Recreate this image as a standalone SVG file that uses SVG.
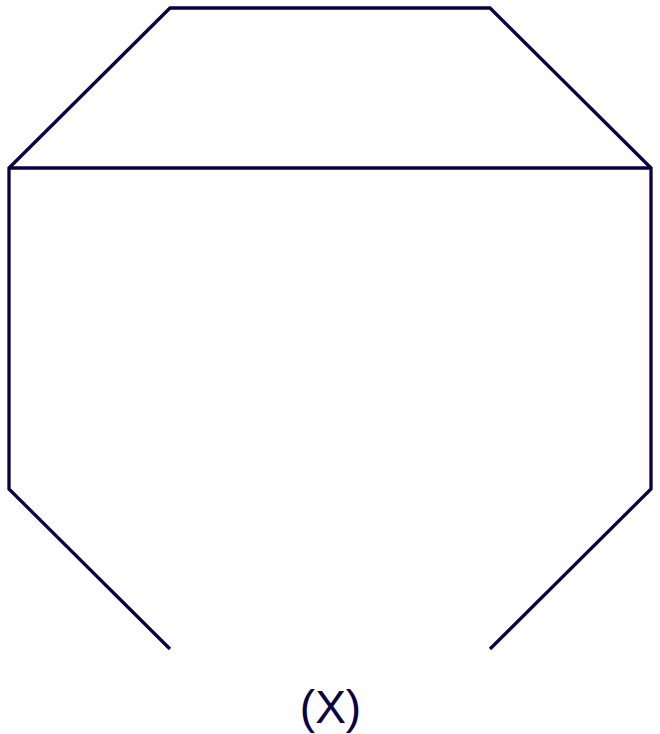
<svg xmlns="http://www.w3.org/2000/svg" width="660" height="734" viewBox="0 0 660 734">
<style>
.e{stroke:#0b0142;stroke-width:3.3;fill:none;stroke-linecap:butt;stroke-linejoin:miter}
.t{font-family:"Liberation Sans",Arial,sans-serif;font-size:46px;fill:#0b0142;text-anchor:middle}
</style>
<rect width="660" height="734" fill="#ffffff"/>
<g id="connectors">
<path class="e" d="M170,649 L9,489 L9,168 L170,8 L490,8 L651,168 L651,489 L490,649"/>
<path class="e" d="M9,168 L651,168"/>
</g>
<g id="label"><text class="t" x="330.5" y="723">(X)</text></g>
</svg>
